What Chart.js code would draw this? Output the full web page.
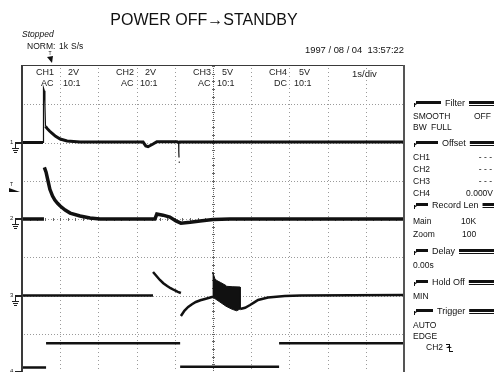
<!DOCTYPE html>
<html>
<head>
<meta charset="utf-8">
<script src="https://cdn.jsdelivr.net/npm/chart.js@4.4.0/dist/chart.umd.min.js"></script>
<style>
  html, body { margin: 0; padding: 0; background: #fff; }
  #wrap { position: relative; width: 497px; height: 372px; }
</style>
</head>
<body>
<div id="wrap"><canvas id="scope" width="497" height="372"></canvas></div>
<script>
// time base 1 s/div over 10 div, 8 vertical div
var V_DIV = [2, 2, 5, 5];      // volts per division CH1..CH4
var GROUND = [6, 4, 2, 0];     // ground marker of each channel, in div from the bottom

// CH1  2V AC
var ch1_t = [0, 0.55, 0.6, 0.615, 0.65, 0.72, 0.79, 0.88, 1.0, 1.18, 1.52, 3.17, 3.24, 3.30, 3.43, 3.53, 4.06, 4.10, 4.13, 4.18, 10];
var ch1_v = [0, 0, null, 0.85, 0.75, 0.6, 0.48, 0.32, 0.18, 0.08, 0.02, 0.02, -0.18, -0.22, -0.08, 0.04, 0.04, 0, 0.02, 0.02, 0.02];
// CH1 fast transients (thin trace)
var ch1_spike_t = [0.55, 0.555, 0.57, 0.585, 0.60, 0.615, 0.62, 4.10, 4.105, 4.11, 4.112, 4.115, 4.118];
var ch1_spike_v = [0, 2.6, 2.85, 2.7, 2.0, 0.85, null, 0, -0.5, -0.78, null, -1.0, -1.06];

// CH2  2V AC
var ch2_t = [0, 0.575, 0.58, 0.585, 0.63, 0.68, 0.73, 0.8, 0.86, 0.93, 1.0, 1.13, 1.26, 1.52, 1.78, 2.04, 3.48, 3.53, 3.69, 3.87, 4.03, 4.16, 4.4, 4.66, 5.0, 5.44, 10];
var ch2_v = [0, 0, null, 2.7, 2.45, 2.0, 1.55, 1.2, 0.99, 0.82, 0.68, 0.47, 0.31, 0.16, 0.05, 0, 0, 0.26, 0.2, 0.1, -0.1, -0.22, -0.17, -0.1, -0.03, 0, 0];

// CH3  5V AC
var ch3_t = [0, 3.43, 3.43, 3.43, 3.52, 3.61, 3.70, 3.80, 3.89, 3.98, 4.08, 4.16, 4.16, 4.16, 4.25, 4.35, 4.45, 4.55, 4.67, 4.79, 4.97, 5.0, 5.0, 5.71, 5.84, 5.97, 6.08, 6.18, 6.44, 6.88, 7.3, 10];
var ch3_v = [0, 0, null, 3.07, 2.55, 2.03, 1.6, 1.24, 0.95, 0.72, 0.48, 0.33, null, -2.68, -2.0, -1.5, -1.15, -0.85, -0.62, -0.46, -0.2, -0.2, null, -1.76, -1.6, -1.24, -0.9, -0.59, -0.26, -0.07, 0, 0.05];
// CH3 burst: upper envelope left to right, lower envelope back
var burst_t = [4.99, 5.05, 5.1, 5.2, 5.34, 5.36, 5.5, 5.71, 5.71, 5.62, 5.5, 5.34, 5.18, 4.99];
var burst_v = [3.07, 2.2, 1.95, 1.7, 1.3, 1.2, 1.15, 1.11, -1.76, -2.0, -1.8, -1.4, -0.85, -0.2];

// CH4  5V DC
var ch4_t = [0, 0.63, 0.63, 0.63, 4.14, 4.14, 4.14, 6.73, 6.73, 6.73, 10];
var ch4_v = [0.6, 0.6, null, 3.75, 3.75, null, 0.7, 0.7, null, 3.75, 3.75];

function toPoints(t, v, ch) {
  return t.map(function (x, i) {
    return { x: x, y: v[i] === null ? null : GROUND[ch] + v[i] / V_DIV[ch] };
  });
}

function trace(t, v, ch, w) {
  return {
    data: toPoints(t, v, ch),
    borderColor: '#111',
    borderWidth: w,
    pointRadius: 0,
    fill: false,
    spanGaps: false,
    tension: 0
  };
}

var FONT = '"Liberation Sans", Arial, sans-serif';

function txt(ctx, s, x, y, size, align, style) {
  ctx.font = (style || '') + ' ' + size + 'px ' + FONT;
  ctx.textAlign = align || 'left';
  ctx.textBaseline = 'middle';
  ctx.fillText(s, x, y);
}

function dotLine(ctx, x1, y1, x2, y2, step) {
  var len = Math.hypot(x2 - x1, y2 - y1);
  for (var d = 0; d <= len; d += step) {
    var x = x1 + (x2 - x1) * d / len, y = y1 + (y2 - y1) * d / len;
    ctx.fillRect(Math.round(x), Math.round(y), 1, 1);
  }
}

// panel header: black tab, name, black tab
function header(ctx, name, x, y) {
  ctx.fillStyle = '#111';
  ctx.font = '9px ' + FONT;
  var w = ctx.measureText(name).width;
  var l1 = 414, l2 = x - 4, r1 = x + w + 4, r2 = 494;
  ctx.fillRect(l1 + 2, y - 4, l2 - l1 - 2, 3);
  ctx.beginPath();
  ctx.moveTo(l1, y + 1); ctx.lineTo(l1 + 3, y - 4); ctx.lineTo(l1 + 3, y - 1); ctx.closePath();
  ctx.fill();
  ctx.fillRect(l1, y - 2, 1, 4);
  ctx.fillRect(r1, y - 4, r2 - r1, 3);
  ctx.fillRect(r1, y, r2 - r1, 1);
  txt(ctx, name, x, y - 1, 9);
}

function groundMark(ctx, n, x, y) {
  ctx.fillStyle = '#222';
  txt(ctx, String(n), x - 5, y - 1, 6);
  ctx.fillRect(x, y - 1, 22 - x, 2);
  ctx.fillRect(x, y, 1, 5);
  ctx.fillRect(x - 3, y + 5, 7, 1);
  ctx.fillRect(x - 2, y + 7, 5, 1);
  ctx.fillRect(x - 1, y + 9, 3, 1);
}

var scopeFace = {
  id: 'scopeFace',
  beforeDatasetsDraw: function (chart) {
    var ctx = chart.ctx, a = chart.chartArea;
    var xs = chart.scales.x, ys = chart.scales.y;
    ctx.save();
    ctx.fillStyle = '#9a9a9a';
    for (var i = 1; i < 10; i++) {
      if (i === 5) continue;
      var px = Math.round(xs.getPixelForValue(i));
      dotLine(ctx, px, a.top + 2, px, a.bottom, 4);
    }
    for (var j = 1; j < 8; j++) {
      var py = Math.round(ys.getPixelForValue(j));
      dotLine(ctx, a.left + 2, py, a.right - 2, py, 3);
    }
    // centre axis with fifth-division ticks
    var cx = Math.round(xs.getPixelForValue(5));
    ctx.fillStyle = '#666';
    dotLine(ctx, cx, a.top + 2, cx, a.bottom, 2);
    for (var k = 0; k <= 40; k++) {
      var ty = Math.round(ys.getPixelForValue(k / 5));
      ctx.fillRect(cx - 1, ty, 3, 1);
    }
    var cy = Math.round(ys.getPixelForValue(4));
    for (var m = 0; m <= 50; m++) {
      var tx = Math.round(xs.getPixelForValue(m / 5));
      ctx.fillRect(tx, cy - 1, 1, 3);
    }
    ctx.restore();
  },
  afterDatasetsDraw: function (chart) {
    var ctx = chart.ctx, a = chart.chartArea;
    var ys = chart.scales.y;
    ctx.save();
    // frame
    ctx.fillStyle = '#3a3a3a';
    ctx.fillRect(a.left - 1, a.top, 2, a.bottom - a.top);
    ctx.fillRect(a.left - 1, a.top - 1, a.right - a.left + 2, 1);
    ctx.fillStyle = '#555';
    ctx.fillRect(a.right - 1, a.top - 1, 2, a.bottom - a.top + 1);

    // channel settings row
    ctx.fillStyle = '#222';
    var cols = [['CH1', '2V', 'AC', 36], ['CH2', '2V', 'AC', 116], ['CH3', '5V', 'AC', 193], ['CH4', '5V', 'DC', 269]];
    cols.forEach(function (c, i) {
      var x0 = c[3];
      var dx = i === 0 ? 32 : (i === 3 ? 30 : 29);
      txt(ctx, c[0], x0, 73, 9);
      txt(ctx, c[1], x0 + dx, 73, 9);
      txt(ctx, c[2], x0 + 5, 84, 9);
      txt(ctx, '10:1', x0 + dx - 5, 84, 9);
    });
    txt(ctx, '1s/div', 352, 74, 9.5);

    // ground markers and trigger level
    for (var ch = 0; ch < 4; ch++) {
      groundMark(ctx, ch + 1, 15, Math.round(ys.getPixelForValue(GROUND[ch])));
    }
    ctx.fillStyle = '#111';
    ctx.beginPath();
    ctx.moveTo(9, 188); ctx.lineTo(20, 192); ctx.lineTo(9, 192); ctx.closePath();
    ctx.fill();
    txt(ctx, 'T', 10, 185, 5);
    ctx.restore();
  },
  afterDraw: function (chart) {
    var ctx = chart.ctx;
    ctx.save();
    ctx.fillStyle = '#111';
    txt(ctx, 'POWER OFF\u2192STANDBY', 204, 21, 16, 'center');
    txt(ctx, 'Stopped', 22, 35, 8.5, 'left', 'italic');
    txt(ctx, 'NORM:', 27, 47, 8.5);
    txt(ctx, '1k', 59, 47, 8.5);
    txt(ctx, 'S/s', 71, 47, 8.5);
    txt(ctx, '1997 / 08 / 04  13:57:22', 404, 50, 9.4, 'right');
    // trigger position arrow
    txt(ctx, 'T', 50, 54, 5, 'center');
    ctx.beginPath();
    ctx.moveTo(47, 57); ctx.lineTo(53, 56); ctx.lineTo(52, 63); ctx.closePath();
    ctx.fill();

    // settings panel
    header(ctx, 'Filter', 445, 105);
    txt(ctx, 'SMOOTH', 413, 117, 8.5);
    txt(ctx, 'OFF', 474, 117, 8.5);
    txt(ctx, 'BW', 413, 128, 8.5);
    txt(ctx, 'FULL', 431, 128, 8.5);
    header(ctx, 'Offset', 442, 145);
    txt(ctx, 'CH1', 413, 158, 8.5);
    txt(ctx, '- - -', 492, 158, 8.5, 'right');
    txt(ctx, 'CH2', 413, 170, 8.5);
    txt(ctx, '- - -', 492, 170, 8.5, 'right');
    txt(ctx, 'CH3', 413, 182, 8.5);
    txt(ctx, '- - -', 492, 182, 8.5, 'right');
    txt(ctx, 'CH4', 413, 194, 8.5);
    txt(ctx, '0.000V', 493, 194, 8.5, 'right');
    header(ctx, 'Record Len', 432, 207);
    txt(ctx, 'Main', 413, 222, 8.5);
    txt(ctx, '10K', 461, 222, 8.5);
    txt(ctx, 'Zoom', 413, 235, 8.5);
    txt(ctx, '100', 462, 235, 8.5);
    header(ctx, 'Delay', 432, 253);
    txt(ctx, '0.00s', 413, 266, 8.5);
    header(ctx, 'Hold Off', 432, 284);
    txt(ctx, 'MIN', 413, 297, 8.5);
    header(ctx, 'Trigger', 437, 313);
    txt(ctx, 'AUTO', 413, 326, 8.5);
    txt(ctx, 'EDGE', 413, 337, 8.5);
    txt(ctx, 'CH2', 426, 348, 8.5);
    // falling edge symbol
    ctx.fillRect(446, 344, 4, 1);
    ctx.fillRect(449, 344, 1, 8);
    ctx.fillRect(449, 351, 4, 1);
    ctx.beginPath();
    ctx.moveTo(446, 348); ctx.lineTo(449, 346); ctx.lineTo(452, 348); ctx.closePath();
    ctx.fill();
    ctx.restore();
  }
};

var ctx = document.getElementById('scope').getContext('2d');
var chart = new Chart(ctx, {
  type: 'line',
  data: {
    datasets: [
      trace(ch1_t, ch1_v, 0, 3),
      trace(ch1_spike_t, ch1_spike_v, 0, 1.2),
      trace(ch2_t, ch2_v, 1, 3.5),
      trace(ch3_t, ch3_v, 2, 2.5),
      {
        data: toPoints(burst_t, burst_v, 2),
        borderColor: '#111',
        backgroundColor: '#111',
        borderWidth: 1,
        pointRadius: 0,
        fill: 'shape',
        tension: 0
      },
      trace(ch4_t, ch4_v, 3, 2.5)
    ]
  },
  options: {
    responsive: false,
    animation: false,
    layout: { padding: { left: 22, top: 66, right: 93, bottom: 0 } },
    scales: {
      x: { type: 'linear', min: 0, max: 10, display: false },
      y: { type: 'linear', min: 0, max: 8, display: false }
    },
    plugins: { legend: { display: false }, tooltip: { enabled: false } }
  },
  plugins: [scopeFace]
});
</script>
</body>
</html>
